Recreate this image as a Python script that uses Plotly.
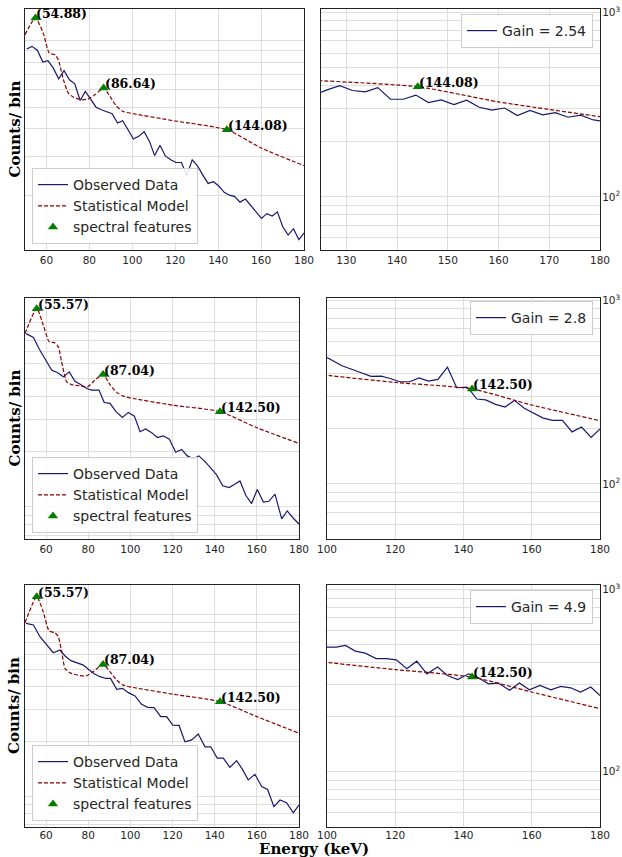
import math
import plotly.graph_objects as go

W, H = 622, 857

# ---------------- data ----------------
# Row 1 (Gain = 2.54)
r1_obs_E = [50.8, 53.3, 55.8, 58.3, 60.7, 63.2, 65.7, 68.2, 70.7, 73.2, 75.7, 78.1, 80.6, 83.1, 85.6, 88.1,
            90.6, 93.1, 95.5, 98.0, 100.5, 103.0, 105.5, 108.0, 110.4, 112.9, 115.4, 117.9, 120.4, 122.9,
            125.4, 127.9, 130.3, 132.8, 135.3, 137.8, 140.3, 142.8, 145.3, 147.7, 150.2, 152.7, 155.2,
            157.7, 160.2, 162.7, 165.2, 167.6, 170.1, 172.6, 175.1, 177.6, 180.1]
r1_obs_V = [916, 942, 903, 800, 811, 751, 672, 731, 665, 638, 536, 589, 544, 500, 487, 475, 467, 424, 434, 395,
            359, 369, 387, 350, 302, 336, 301, 289, 281, 281, 245, 289, 272, 247, 226, 230, 220, 206, 200, 197,
            186, 192, 180, 168, 157, 165, 161, 168, 144, 132, 141, 126, 135]
r1_mod_E = [50, 54.88, 58.5, 61.3, 64.0, 65.5, 67.9, 70.2, 72.5, 76.4, 79.5, 82.6, 86.64, 89.6, 92.7, 95.8,
            100.5, 120, 144.08, 160, 180]
r1_mod_V = [1064, 1265, 1081, 879, 863, 820, 665, 579, 556, 540, 545, 569, 610, 560, 504, 478, 467, 433, 395,
            327, 272]
r1_feat_E = [54.88, 86.64, 144.08]
r1_feat_V = [1265, 610, 395]
r1_feat_T = ["(54.88)", "(86.64)", "(144.08)"]
r1_gain_E = [123.7, 126.2, 128.7, 131.2, 133.7, 136.2, 138.7, 141.2, 143.7, 146.2, 148.7, 151.2, 153.7,
             156.2, 158.7, 161.2, 163.7, 166.2, 168.7, 171.2, 173.7, 176.2, 178.7, 181.2]
r1_gain_V = [356, 380, 400, 377, 371, 391, 338, 338, 356, 324, 335, 316, 334, 306, 295, 303, 276, 294, 278,
             286, 270, 277, 261, 256]

# Row 2 (Gain = 2.8)
r2_obs_E = [50.5, 54.0, 56.8, 59.5, 62.7, 65.3, 68.2, 71.0, 73.7, 76.4, 79.3, 81.6, 85.1, 87.6, 90.3, 93.2,
            96.2, 99.0, 101.9, 104.6, 107.2, 110.1, 112.8, 115.6, 118.5, 121.5, 124.3, 127.0, 129.9, 132.5,
            135.4, 138.2, 140.9, 143.8, 146.8, 149.3, 152.0, 154.8, 157.5, 160.2, 163.1, 165.7, 168.6,
            171.8, 174.4, 177.3, 180.0]
r2_obs_V = [875, 833, 720, 635, 553, 538, 509, 542, 482, 462, 440, 431, 431, 369, 365, 329, 306, 326, 311, 256,
            265, 253, 238, 243, 233, 198, 205, 189, 182, 189, 176, 162, 149, 130, 127, 132, 138, 115, 104, 124,
            106, 107, 117, 85.8, 94.8, 86.5, 80.5]
r2_mod_E = [50, 55.57, 58.7, 61.5, 63.9, 65.8, 67.4, 69.8, 72.1, 76.1, 79.6, 83.2, 87.04, 90.3, 93.5, 96.6,
            101.4, 120, 142.5, 160, 180]
r2_mod_V = [875, 1197, 972, 789, 782, 741, 614, 478, 462, 455, 449, 489, 524, 462, 419, 400, 388, 357, 329,
            269, 221]
r2_feat_E = [55.57, 87.04, 142.50]
r2_feat_V = [1197, 524, 329]
r2_feat_T = ["(55.57)", "(87.04)", "(142.50)"]
r2_gain_E = [100.0, 104.4, 108.8, 112.9, 115.9, 118.5, 121.3, 124.2, 127.0, 129.7, 132.5, 135.3, 138.0,
             141.0, 142.4, 143.9, 146.5, 149.4, 152.2, 154.9, 157.8, 160.5, 163.2, 166.0, 169.0, 171.8,
             174.6, 177.4, 180.0]
r2_gain_V = [488, 440, 411, 385, 386, 375, 360, 360, 378, 363, 371, 432, 334, 337, 315, 290, 287, 271, 262,
             285, 258, 244, 229, 222, 222, 192, 204, 179, 199]

# Row 3 (Gain = 4.9)
r3_obs_E = [50.5, 54.0, 57.1, 60.3, 63.4, 66.6, 69.0, 71.8, 74.5, 77.7, 80.5, 83.2, 85.6, 88.4, 90.6, 93.5,
            96.3, 99.0, 102.2, 105.3, 108.2, 111.2, 114.4, 117.2, 120.1, 123.1, 125.9, 129.1, 132.2, 135.4,
            138.1, 141.2, 144.1, 147.2, 150.4, 153.1, 155.9, 159.1, 162.3, 165.1, 168.1, 171.0, 174.1,
            177.3, 180.0]
r3_obs_V = [891, 873, 753, 677, 615, 636, 590, 556, 544, 526, 494, 468, 454, 444, 444, 387, 392, 371, 356, 320,
            308, 307, 274, 274, 246, 245, 199, 204, 220, 187, 187, 162, 162, 144, 157, 141, 123, 132, 113, 109,
            87.6, 95.3, 92.2, 81.2, 89.5]
r3_mod_E = [50, 55.57, 58.4, 61.5, 64.2, 65.8, 67.4, 69.0, 71.3, 75.3, 78.9, 82.4, 87.04, 90.3, 93.5, 96.6,
            101.4, 120, 142.5, 160, 180]
r3_mod_V = [899, 1249, 1054, 809, 792, 753, 623, 504, 477, 462, 458, 484, 530, 484, 435, 408, 396, 364, 331,
            274, 222]
r3_feat_E = [55.57, 87.04, 142.50]
r3_feat_V = [1249, 530, 331]
r3_feat_T = ["(55.57)", "(87.04)", "(142.50)"]
r3_gain_E = [100.0, 102.7, 105.4, 108.3, 111.2, 114.4, 117.4, 120.3, 123.4, 126.3, 129.3, 132.4, 135.3,
             138.3, 141.5, 144.4, 147.3, 150.2, 153.5, 156.4, 159.3, 162.4, 165.6, 168.5, 171.4, 174.3,
             177.3, 180.0]
r3_gain_V = [484, 484, 494, 460, 448, 418, 418, 412, 368, 405, 345, 376, 338, 321, 345, 328, 304, 307, 280,
             307, 282, 298, 282, 294, 289, 274, 292, 262]

gain_labels = ["Gain = 2.54", "Gain = 2.8", "Gain = 4.9"]
log_grid_vals = [50, 60, 70, 80, 90, 100, 200, 300, 400, 500, 600, 700, 800, 900, 1000, 2000]
decade_vals = [100, 1000]
decade_text = ["10<sup>2</sup>", "10<sup>3</sup>"]

# ---------------- layout config ----------------
rows = [
    dict(obs=(r1_obs_E, r1_obs_V), mod=(r1_mod_E, r1_mod_V), feat=(r1_feat_E, r1_feat_V, r1_feat_T),
         gain=(r1_gain_E, r1_gain_V),
         left=dict(px=(25, 304), yr=(2.053, 3.143), xr=(50, 180), dt=20),
         right=dict(px=(321, 600), yr=(1.712, 3.018), xr=(125, 180), dt=10),
         py=(9, 250), legL=(32, 244), legR=(593, 14), xstand=0),
    dict(obs=(r2_obs_E, r2_obs_V), mod=(r2_mod_E, r2_mod_V), feat=(r2_feat_E, r2_feat_V, r2_feat_T),
         gain=(r2_gain_E, r2_gain_V),
         left=dict(px=(25, 299), yr=(1.824, 3.136), xr=(50, 180), dt=20),
         right=dict(px=(327, 600), yr=(1.70, 3.0125), xr=(100, 180), dt=20),
         py=(298, 539), legL=(32, 533), legR=(593, 301), xstand=0),
    dict(obs=(r3_obs_E, r3_obs_V), mod=(r3_mod_E, r3_mod_V), feat=(r3_feat_E, r3_feat_V, r3_feat_T),
         gain=(r3_gain_E, r3_gain_V),
         left=dict(px=(25, 299), yr=(1.831, 3.161), xr=(50, 180), dt=20),
         right=dict(px=(327, 600), yr=(1.696, 3.026), xr=(100, 180), dt=20),
         py=(585, 827), legL=(32, 821), legR=(593, 590), xstand=-2),
]

OBS_COLOR = "#191970"
MOD_COLOR = "#8b0000"
FEAT_COLOR = "#008000"
GRID = "#dedede"
AX = "#222222"
TICKFONT = dict(family="DejaVu Sans", size=10.5, color="#262626")
LEGFONT = dict(family="DejaVu Sans", size=14, color="#262626")
ANNFONT = dict(family="DejaVu Serif", size=12.5, color="black")

fig = go.Figure()
layout = {}
annotations = []


def fx(p):
    return p / W


def fy(p):
    return 1 - p / H


ax_i = 0
for r, row in enumerate(rows):
    for side in ("left", "right"):
        ax_i += 1
        xa = "x" if ax_i == 1 else f"x{ax_i}"
        ya = "y" if ax_i == 1 else f"y{ax_i}"
        xkey = "xaxis" if ax_i == 1 else f"xaxis{ax_i}"
        ykey = "yaxis" if ax_i == 1 else f"yaxis{ax_i}"
        lref = "legend" if ax_i == 1 else f"legend{ax_i}"

        if side == "left":
            oE, oV = row["obs"]
            obs_name = "Observed Data"
        else:
            oE, oV = row["gain"]
            obs_name = gain_labels[r]
        mE, mV = row["mod"]
        fE, fV, fT = row["feat"]
        cfg = row[side]

        fig.add_trace(go.Scatter(x=oE, y=oV, mode="lines", name=obs_name,
                                 line=dict(color=OBS_COLOR, width=1.2),
                                 xaxis=xa, yaxis=ya, legend=lref, showlegend=True))
        fig.add_trace(go.Scatter(x=mE, y=mV, mode="lines", name="Statistical Model",
                                 line=dict(color=MOD_COLOR, width=1.2, dash="4px,2px", shape="spline",
                                           smoothing=0.6),
                                 xaxis=xa, yaxis=ya, legend=lref, showlegend=(side == "left")))
        xr = cfg["xr"]
        inE = [e for e in fE if xr[0] <= e <= xr[1]]
        inV = [v for e, v in zip(fE, fV) if xr[0] <= e <= xr[1]]
        inT = [t for e, t in zip(fE, fT) if xr[0] <= e <= xr[1]]
        fig.add_trace(go.Scatter(x=inE, y=inV, mode="markers", name="spectral features",
                                 marker=dict(symbol="triangle-up", size=9, color=FEAT_COLOR),
                                 xaxis=xa, yaxis=ya, legend=lref, showlegend=(side == "left")))
        for e, v, t in zip(inE, inV, inT):
            annotations.append(dict(x=e, y=math.log10(v), xref=xa, yref=ya, text=f"<b>{t}</b>",
                                    showarrow=False, xanchor="left", yanchor="bottom",
                                    xshift=-1, yshift=-5, font=ANNFONT))

        p0, p1 = cfg["px"]
        layout[xkey] = dict(domain=[fx(p0), fx(p1)], range=list(xr), anchor=ya, automargin=False,
                            tickmode="linear", tick0=0, dtick=cfg["dt"],
                            showgrid=True, gridcolor=GRID, gridwidth=1,
                            showline=True, mirror=True, linecolor=AX, linewidth=1.2,
                            ticks="", tickfont=TICKFONT, zeroline=False,
                            ticklabelstandoff=row["xstand"])
        py0, py1 = row["py"]
        ydict = dict(domain=[fy(py1), fy(py0)], type="log", range=list(cfg["yr"]), anchor=xa,
                     automargin=False, showgrid=True, gridcolor=GRID, gridwidth=1,
                     showline=True, mirror=True, linecolor=AX, linewidth=1.2,
                     ticks="", tickfont=TICKFONT, zeroline=False)
        if side == "left":
            ydict.update(tickmode="array", tickvals=log_grid_vals, showticklabels=False)
            lx, ly = row["legL"]
            layout[lref] = dict(x=fx(lx), y=fy(ly), xanchor="left", yanchor="bottom",
                                bgcolor="rgba(255,255,255,0.85)", bordercolor="#cccccc", borderwidth=1,
                                font=LEGFONT, tracegroupgap=0)
        else:
            ydict.update(side="right", tickmode="array", tickvals=decade_vals, ticktext=decade_text,
                         ticklabelstandoff=-1,
                         minor=dict(tickmode="array", tickvals=log_grid_vals, showgrid=True,
                                    gridcolor=GRID, gridwidth=1, ticks=""))
            lx, ly = row["legR"]
            layout[lref] = dict(x=fx(lx), y=fy(ly), xanchor="right", yanchor="top",
                                bgcolor="rgba(255,255,255,0.85)", bordercolor="#cccccc", borderwidth=1,
                                font=LEGFONT, tracegroupgap=0)
        layout[ykey] = ydict

    py0, py1 = row["py"]
    annotations.append(dict(x=fx(14), y=fy((py0 + py1) / 2), xref="paper", yref="paper",
                            text="<b>Counts/ bin</b>", textangle=-90, showarrow=False,
                            xanchor="center", yanchor="middle",
                            font=dict(family="DejaVu Serif", size=15, color="black")))

annotations.append(dict(x=fx(314), y=fy(849), xref="paper", yref="paper", text="<b>Energy (keV)</b>",
                        showarrow=False, xanchor="center", yanchor="middle",
                        font=dict(family="DejaVu Serif", size=15, color="black")))

fig.update_layout(width=W, height=H, margin=dict(l=0, r=0, t=0, b=0, pad=0, autoexpand=False),
                  paper_bgcolor="white", plot_bgcolor="white",
                  annotations=annotations, **layout)

fig.write_html("out.html", config={"displayModeBar": False},
               post_script="document.body.style.margin='0px';")
